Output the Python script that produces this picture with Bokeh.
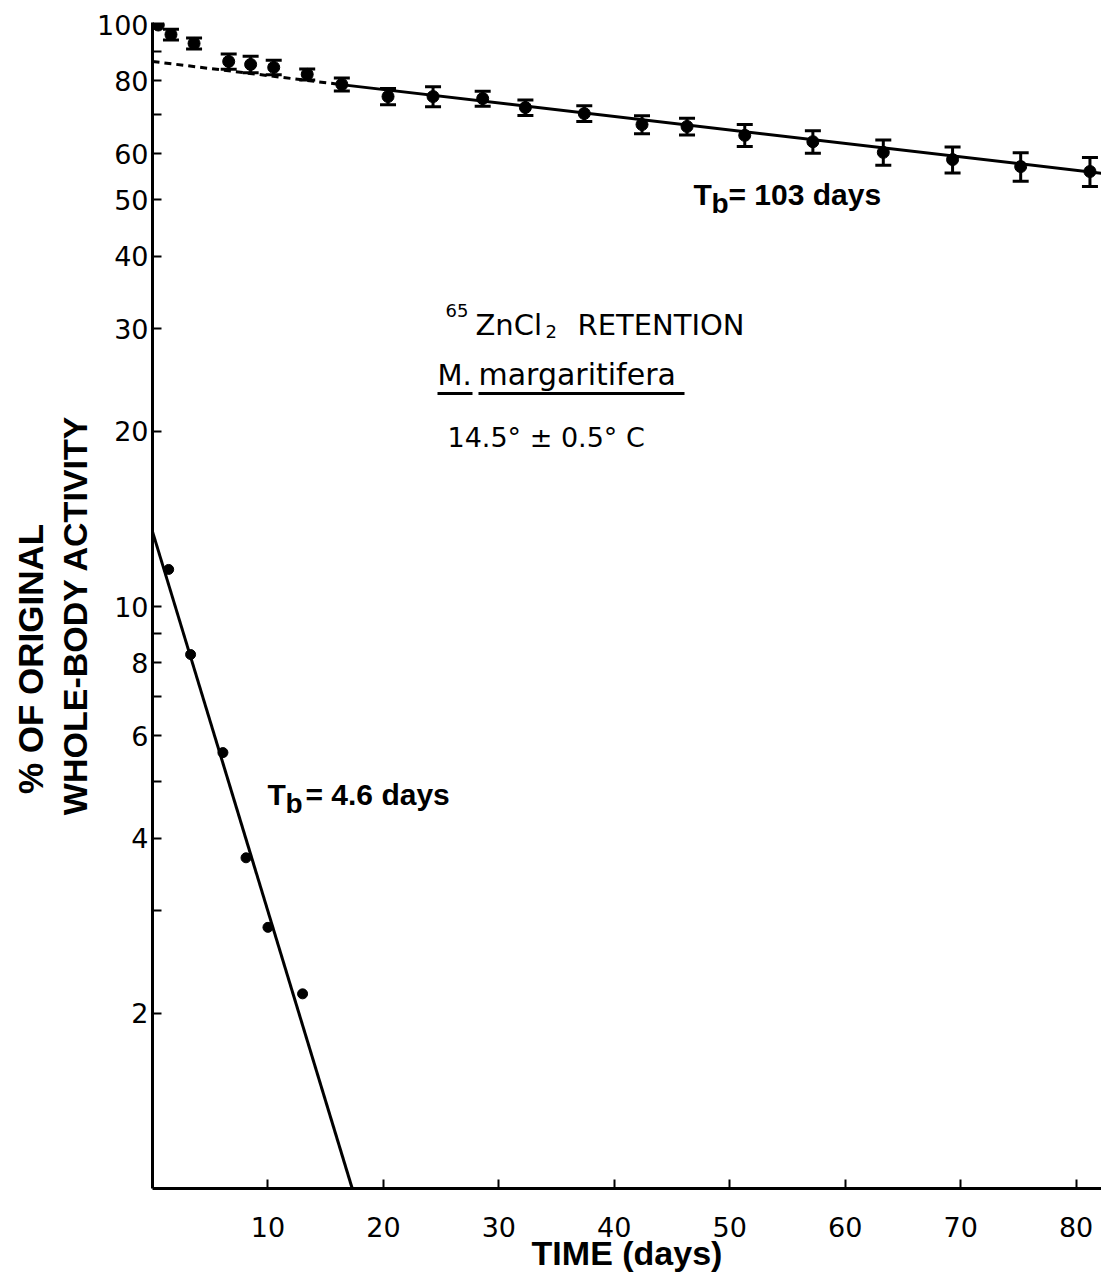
import numpy as np
from bokeh.plotting import figure
from bokeh.models import (ColumnDataSource, Whisker, TeeHead, FixedTicker, Label,
                          Range1d, NumeralTickFormatter, LogAxis)
from bokeh.embed import file_html
from bokeh.resources import INLINE

# ---------------- data ----------------
# slow component (mean +/- error)
slow_days = [0.5, 1.6, 3.6, 6.6, 8.5, 10.5, 13.4, 16.4, 20.4, 24.3, 28.6, 32.3,
             37.4, 42.4, 46.3, 51.3, 57.2, 63.3, 69.3, 75.2, 81.2]
slow_pct = [99.8, 96.1, 92.8, 86.4, 85.4, 84.4, 82.1, 78.9, 75.2, 75.2, 74.6, 72.0,
            70.3, 67.3, 66.8, 64.5, 62.9, 60.3, 58.6, 57.0, 55.9]
slow_err = [0.0, 2.0, 2.0, 2.6, 2.8, 2.4, 1.8, 2.0, 2.4, 3.0, 2.2, 2.2,
            2.2, 2.4, 2.2, 2.8, 2.8, 3.0, 3.0, 3.2, 3.2]

# fitted line of slow component (Tb = 103 days): dashed extrapolation + solid part
slow_dash_x = [0.0, 16.9]
slow_dash_y = [86.4, 78.6]
slow_fit_x = [16.9, 82.2]
slow_fit_y = [78.6, 55.5]

# fast component (residuals)
fast_days = [1.4, 3.3, 6.1, 8.1, 10.0, 13.0]
fast_pct = [11.58, 8.27, 5.61, 3.70, 2.81, 2.16]
fast_fit_x = [0.0, 17.3]
fast_fit_y = [13.45, 1.0]

x_ticks = [10, 20, 30, 40, 50, 60, 70, 80]
y_ticks = [2, 3, 4, 5, 6, 7, 8, 9, 10, 20, 30, 40, 50, 60, 70, 80, 90, 100]
y_tick_labels = {2: "2", 3: "", 4: "4", 5: "", 6: "6", 7: "", 8: "8", 9: "",
                 10: "10", 20: "20", 30: "30", 40: "40", 50: "50", 60: "60",
                 70: "", 80: "80", 90: "", 100: "100"}

# ---------------- layout ----------------
W, H = 1101, 1281
FL, FR, FT, FB = 152, 1101, 22, 1188
X0, X1 = 0.0, 82.2
Y0, Y1 = 1.0, 100.8
NB = "\u00a0"


def px_x(px):
    return X0 + (px - FL) / (FR - FL) * (X1 - X0)


def px_y(py):
    return 10 ** (np.log10(Y0) + (FB - py) / (FB - FT) * (np.log10(Y1) - np.log10(Y0)))


p = figure(width=W, height=H, y_axis_type="log",
           x_range=Range1d(X0, X1), y_range=Range1d(Y0, Y1),
           output_backend="svg", toolbar_location=None,
           min_border_left=FL, min_border_right=W - FR,
           min_border_top=FT, min_border_bottom=H - FB)
p.xgrid.visible = False
p.ygrid.visible = False
p.outline_line_color = None
p.background_fill_color = "white"
p.border_fill_color = "white"

for ax in (p.xaxis[0], p.yaxis[0]):
    ax.axis_line_width = 3
    ax.axis_line_color = "black"
    ax.major_tick_line_width = 2
    ax.major_tick_line_color = "black"
    ax.major_tick_in = 9
    ax.major_tick_out = 0
    ax.minor_tick_line_color = None
    ax.major_label_text_font = "DejaVu Sans"
    ax.major_label_text_font_size = "27px"
    ax.major_label_text_color = "black"
    ax.axis_label_text_font = "Liberation Sans"
    ax.axis_label_text_font_style = "bold"
    ax.axis_label_text_color = "black"

p.xaxis.ticker = FixedTicker(ticks=x_ticks)
p.xaxis.major_label_standoff = 28
p.xaxis.axis_label = "TIME (days)"
p.xaxis.axis_label_text_font_size = "34px"
p.xaxis.axis_label_standoff = -6

p.yaxis.ticker = FixedTicker(ticks=y_ticks)
p.yaxis.formatter = NumeralTickFormatter(format="0")
p.yaxis.major_label_overrides = y_tick_labels
p.yaxis.major_label_standoff = 4
p.yaxis.axis_label = "WHOLE-BODY ACTIVITY" + NB * 2
p.yaxis.axis_label_text_font_size = "34px"
p.yaxis.axis_label_standoff = 0

# second line of the y title, as an outer axis without ticks
outer = LogAxis(ticker=FixedTicker(ticks=[]), axis_line_color=None,
                major_tick_line_color=None, minor_tick_line_color=None,
                major_label_text_font_size="0px",
                axis_label="% OF ORIGINAL" + NB * 11,
                axis_label_text_font="Liberation Sans",
                axis_label_text_font_style="bold",
                axis_label_text_font_size="35px",
                axis_label_text_color="black",
                axis_label_standoff=3)
p.add_layout(outer, "left")

# ---------------- marks ----------------
p.line(slow_dash_x, slow_dash_y, line_width=3, line_color="black", line_dash="7 5")
p.line(slow_fit_x, slow_fit_y, line_width=3, line_color="black")
p.line(fast_fit_x, fast_fit_y, line_width=3, line_color="black")

err_idx = [i for i, e in enumerate(slow_err) if e > 0]
src_err = ColumnDataSource(dict(
    x=[slow_days[i] for i in err_idx],
    upper=[slow_pct[i] + slow_err[i] for i in err_idx],
    lower=[slow_pct[i] - slow_err[i] for i in err_idx],
))
p.add_layout(Whisker(source=src_err, base="x", upper="upper", lower="lower",
                     line_width=3, line_color="black",
                     upper_head=TeeHead(size=16, line_width=3, line_color="black"),
                     lower_head=TeeHead(size=16, line_width=3, line_color="black")))

p.scatter(slow_days, slow_pct, size=12, color="black")
p.scatter(fast_days, fast_pct, size=10, color="black")

# ---------------- annotations ----------------
REG = "DejaVu Sans"
BOLD = "Liberation Sans"
SHIFT = 11  # rendered baseline sits lower than requested


def label(text, px, py, size, font=REG, style="normal", align="left"):
    p.add_layout(Label(x=px_x(px), y=px_y(py - SHIFT), text=text, text_font=font,
                       text_font_size=f"{size}px", text_font_style=style,
                       text_align=align, text_baseline="alphabetic",
                       text_color="black"))


# title block
label("65", 445, 321, 18)
label("ZnCl", 475, 335, 29)
label("2", 545, 342, 18)
label("RETENTION", 577, 335, 29)
label("M.", 437, 385, 29)
label("margaritifera", 478, 385, 30)
label("14.5° ± 0.5° C", 447, 448, 27)
p.segment(x0=[px_x(437), px_x(478)], y0=[px_y(393), px_y(393)],
          x1=[px_x(472), px_x(684)], y1=[px_y(393), px_y(393)],
          line_width=3, line_color="black")

# half-life labels
label("T", 693, 205, 30, BOLD, "bold")
label("b", 711, 214, 28, BOLD, "bold")
label("= 103 days", 728, 205, 30, BOLD, "bold")
label("T", 267, 805, 30, BOLD, "bold")
label("b", 285, 814, 28, BOLD, "bold")
label("= 4.6 days", 305, 805, 30, BOLD, "bold")

open("out.html", "w").write(file_html(p, INLINE))
